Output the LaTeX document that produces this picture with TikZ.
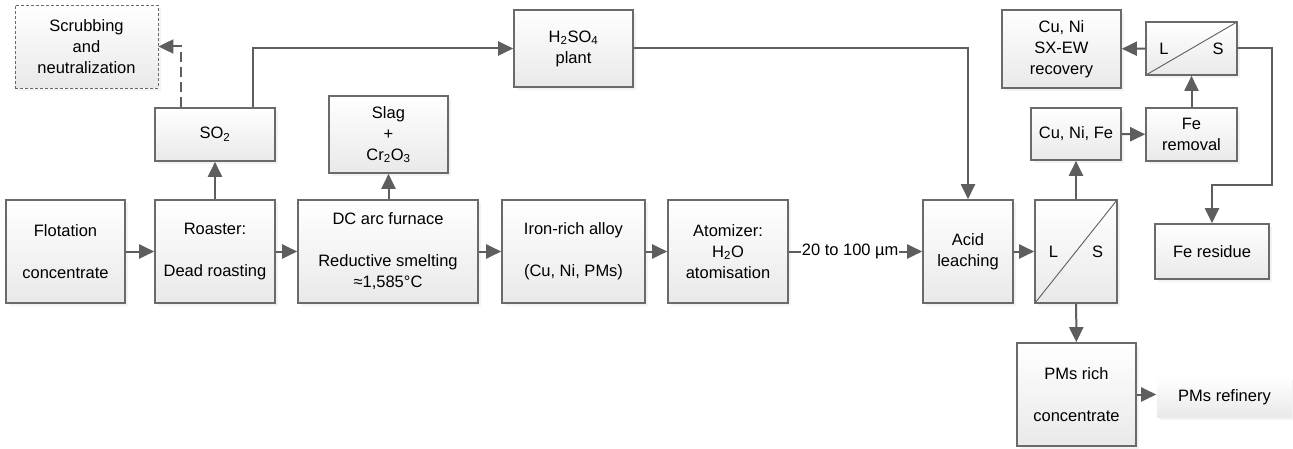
\documentclass[tikz,border=0pt]{standalone}
\usepackage{fontspec}
\setmainfont{Liberation Sans}
\usepackage{tikz}
\usetikzlibrary{positioning}
\usetikzlibrary{arrows.meta}
\usetikzlibrary{shadows}

\definecolor{linegray}{HTML}{5E5E5E}
\definecolor{boxgray}{HTML}{6A6A6A}
\definecolor{shadegray}{HTML}{E9E9E9}

\tikzset{
  unit/.style={draw=boxgray, line width=1.6pt, top color=white, bottom color=shadegray,
    drop shadow={shadow xshift=3pt, shadow yshift=-3pt, fill=black!9},
    align=center, inner sep=2pt},
  sepbox/.style={unit, path picture={\draw[linegray, line width=0.9pt]
    (path picture bounding box.south west) -- (path picture bounding box.north east);}},
  flow/.style={draw=linegray, line width=2pt, -{Triangle[length=15pt,width=14pt]}},
}

\begin{document}
\begin{tikzpicture}[x=1pt, y=-1pt, font=\fontsize{16.5}{21}\selectfont]
\useasboundingbox (0,0) rectangle (1293,449);

% main line
\node[unit, minimum width=119, minimum height=103] (flot) at (65.5,251.5) {Flotation\\[21pt]concentrate};
\node[unit, minimum width=120, minimum height=103] (roast) at (215,251.5) {Roaster:\\[21pt]Dead roasting};
\node[unit, minimum width=180, minimum height=103] (dcarc) at (388,251.5) {DC arc furnace\\[21pt]Reductive smelting\\ ≈1,585°C};
\node[unit, minimum width=143, minimum height=103] (alloy) at (573.5,251.5) {Iron-rich alloy\\[21pt](Cu, Ni, PMs)};
\node[unit, minimum width=120, minimum height=103] (atom) at (728,251.5) {Atomizer:\\ H\textsubscript{2}O\\ atomisation};
\node[unit, minimum width=90, minimum height=103] (acid) at (968,251.5) {Acid\\ leaching};
\node[sepbox, minimum width=82, minimum height=103] (ls1) at (1076,251.5) {L\hspace{34pt}S};

% gas and slag
\node[unit, minimum width=120, minimum height=53] (so2) at (215,134.5) {SO\textsubscript{2}};
\node[unit, draw=boxgray, line width=0.8pt, dash pattern=on 3pt off 2pt, minimum width=143, minimum height=83] (scrub) at (86.5,46.5) {Scrubbing\\ and\\ neutralization};
\node[unit, minimum width=119, minimum height=77] (slag) at (388.5,134.5) {Slag\\ +\\ Cr\textsubscript{2}O\textsubscript{3}};
\node[unit, minimum width=119, minimum height=77] (acidplant) at (573.5,48.5) {H\textsubscript{2}SO\textsubscript{4}\\ plant};

% solution side
\node[unit, minimum width=90, minimum height=52] (cunife) at (1076,134) {Cu, Ni, Fe};
\node[unit, minimum width=91, minimum height=53] (feremo) at (1191.5,134.5) {Fe\\ removal};
\node[sepbox, minimum width=91, minimum height=53] (ls2) at (1191.5,48.5) {L\hspace{44pt}S};
\node[unit, minimum width=119, minimum height=78] (sxew) at (1061.5,49) {Cu, Ni\\ SX-EW\\ recovery};
\node[unit, minimum width=114, minimum height=55] (feres) at (1212,251.5) {Fe residue};
\coordinate (resbend) at (1272,185);

% solids side
\node[unit, minimum width=119, minimum height=103] (pmconc) at (1076.5,394.5) {PMs rich\\[21pt]concentrate};
\node[unit, draw=none, minimum width=135, minimum height=40] (pmref) at (1224.5,397) {PMs refinery};

% connectors
\draw[flow] (flot) -- (roast);
\draw[flow] (roast) -- (dcarc);
\draw[flow] (dcarc) -- (alloy);
\draw[flow] (alloy) -- (atom);
\draw[flow] (atom) -- node[pos=0.46, fill=white, inner sep=1pt] {20 to 100 µm} (acid);
\draw[flow] (acid) -- (ls1);
\draw[flow] (roast) -- (so2);
\draw[flow] (dcarc.north -| slag) -- (slag);
\draw[flow, dash pattern=on 10pt off 5pt] ([xshift=-34pt]so2.north) |- (scrub.east);
\draw[flow] ([xshift=38pt]so2.north) |- (acidplant.west);
\draw[flow] (acidplant.east) -| (acid.north);
\draw[flow] (ls1) -- (cunife);
\draw[flow] (cunife) -- (feremo);
\draw[flow] (feremo) -- (ls2);
\draw[flow] (ls2) -- (sxew);
\draw[flow] (ls2.east) -| (resbend) -| (feres.north);
\draw[flow] (ls1) -- (pmconc);
\draw[flow] (pmconc.east) -- (pmconc.east -| pmref.west);
\end{tikzpicture}
\end{document}
